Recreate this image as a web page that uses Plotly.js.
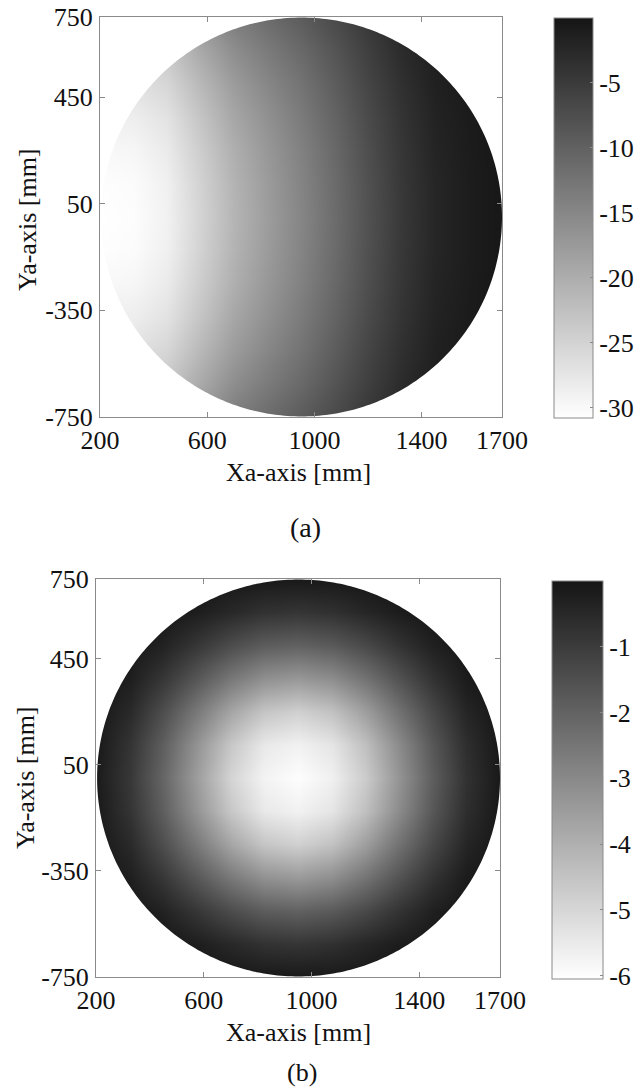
<!DOCTYPE html>
<html>
<head>
<meta charset="utf-8">
<script src="https://cdn.plot.ly/plotly-3.0.1.min.js"></script>
<style>
  html, body { margin: 0; padding: 0; background: #ffffff; }
  #chart { width: 643px; height: 1090px; }
</style>
</head>
<body>
<div id="chart"></div>
<script>
// ---------------- data ----------------
// grid positions [mm]
const xGrid = [200, 325, 450, 575, 700, 825, 950, 1075, 1200, 1325, 1450, 1575, 1700];
const yGrid = [-750, -625, -500, -375, -250, -125, 0, 125, 250, 375, 500, 625, 750];

// (a) values per row (y = -750 ... 750)
const aRowM750 = [-22.8, -22.5, -21.0, -17.0, -13.5, -11.3, -9.3, -6.9, -4.4, -2.1, -0.7, -0.1, -0.1];
const aRowM625 = [-25.2, -24.9, -23.4, -19.4, -15.8, -13.3, -11.0, -8.3, -5.5, -2.9, -1.2, -0.3, -0.1];
const aRowM500 = [-27.2, -26.9, -25.4, -21.4, -17.7, -14.9, -12.4, -9.4, -6.3, -3.5, -1.5, -0.6, -0.1];
const aRowM375 = [-28.8, -28.5, -27.0, -23.0, -19.1, -16.2, -13.4, -10.3, -7.0, -4.0, -1.8, -0.8, -0.2];
const aRowM250 = [-29.9, -29.6, -28.1, -24.1, -20.2, -17.1, -14.2, -10.9, -7.5, -4.3, -2.0, -0.9, -0.2];
const aRowM125 = [-30.6, -30.3, -28.8, -24.8, -20.8, -17.6, -14.6, -11.3, -7.8, -4.5, -2.2, -1.0, -0.3];
const aRow0    = [-30.8, -30.5, -29.0, -25.0, -21.0, -17.8, -14.8, -11.4, -7.9, -4.6, -2.2, -1.0, -0.3];
const aRowP125 = [-30.6, -30.3, -28.8, -24.8, -20.8, -17.6, -14.6, -11.3, -7.8, -4.5, -2.2, -1.0, -0.3];
const aRowP250 = [-29.9, -29.6, -28.1, -24.1, -20.2, -17.1, -14.2, -10.9, -7.5, -4.3, -2.0, -0.9, -0.2];
const aRowP375 = [-28.8, -28.5, -27.0, -23.0, -19.1, -16.2, -13.4, -10.3, -7.0, -4.0, -1.8, -0.8, -0.2];
const aRowP500 = [-27.2, -26.9, -25.4, -21.4, -17.7, -14.9, -12.4, -9.4, -6.3, -3.5, -1.5, -0.6, -0.1];
const aRowP625 = [-25.2, -24.9, -23.4, -19.4, -15.8, -13.3, -11.0, -8.3, -5.5, -2.9, -1.2, -0.3, -0.1];
const aRowP750 = [-22.8, -22.5, -21.0, -17.0, -13.5, -11.3, -9.3, -6.9, -4.4, -2.1, -0.7, -0.1, -0.1];

// (b) values per row (y = -750 ... 750)
const bRowM750 = [0, 0, 0, 0, -0.05, -0.09, -0.10, -0.08, -0.04, 0, 0, 0, 0];
const bRowM625 = [0, 0, -0.04, -0.22, -0.49, -0.74, -0.82, -0.71, -0.44, -0.18, -0.03, 0, 0];
const bRowM500 = [0, -0.04, -0.33, -0.86, -1.42, -1.83, -1.96, -1.77, -1.34, -0.77, -0.27, -0.02, 0];
const bRowM375 = [0, -0.24, -0.87, -1.71, -2.56, -3.19, -3.40, -3.12, -2.44, -1.59, -0.76, -0.16, 0];
const bRowM250 = [-0.06, -0.53, -1.47, -2.59, -3.74, -4.56, -4.84, -4.47, -3.57, -2.40, -1.30, -0.42, -0.03];
const bRowM125 = [-0.10, -0.80, -1.90, -3.27, -4.61, -5.47, -5.70, -5.37, -4.42, -3.05, -1.70, -0.65, -0.07];
const bRow0    = [-0.15, -0.89, -2.08, -3.52, -4.94, -5.74, -6.00, -5.66, -4.72, -3.28, -1.86, -0.74, -0.09];
const bRowP125 = [-0.10, -0.80, -1.90, -3.27, -4.61, -5.47, -5.70, -5.37, -4.42, -3.05, -1.70, -0.65, -0.07];
const bRowP250 = [-0.06, -0.53, -1.47, -2.59, -3.74, -4.56, -4.84, -4.47, -3.57, -2.40, -1.30, -0.42, -0.03];
const bRowP375 = [0, -0.24, -0.87, -1.71, -2.56, -3.19, -3.40, -3.12, -2.44, -1.59, -0.76, -0.16, 0];
const bRowP500 = [0, -0.04, -0.33, -0.86, -1.42, -1.83, -1.96, -1.77, -1.34, -0.77, -0.27, -0.02, 0];
const bRowP625 = [0, 0, -0.04, -0.22, -0.49, -0.74, -0.82, -0.71, -0.44, -0.18, -0.03, 0, 0];
const bRowP750 = [0, 0, 0, 0, -0.05, -0.09, -0.10, -0.08, -0.04, 0, 0, 0, 0];

// axis ticks
const xTickVals = [200, 600, 1000, 1400, 1700];
const xTickText = ["200", "600", "1000", "1400", "1700"];
const yTickVals = [-750, -350, 50, 450, 750];
const yTickText = ["-750", "-350", "50", "450", "750"];

// colour bar ticks
const cbATickVals = [-5, -10, -15, -20, -25, -30];
const cbATickText = ["-5", "-10", "-15", "-20", "-25", "-30"];
const cbBTickVals = [-1, -2, -3, -4, -5, -6];
const cbBTickText = ["-1", "-2", "-3", "-4", "-5", "-6"];

// colour ranges
const zRangeA = [-30.8, 0];
const zRangeB = [-6.05, 0];

// circular aperture [mm]
const apertureCx = 952;
const apertureCy = 0;
const apertureR = 748;

// axis ranges
const xRange = [200, 1700];
const yRange = [-750, 750];

// ---------------- build ----------------
const zA = [aRowM750, aRowM625, aRowM500, aRowM375, aRowM250, aRowM125, aRow0,
            aRowP125, aRowP250, aRowP375, aRowP500, aRowP625, aRowP750];
const zB = [bRowM750, bRowM625, bRowM500, bRowM375, bRowM250, bRowM125, bRow0,
            bRowP125, bRowP250, bRowP375, bRowP500, bRowP625, bRowP750];

// white mask outside the circular aperture (rectangle with a circular hole)
function maskOutline() {
  const pad = 100;
  const xr1 = xRange[1] + pad, xr0 = xRange[0] - pad;
  const yr1 = yRange[1] + pad, yr0 = yRange[0] - pad;
  const xs = [xr1, xr1, xr0, xr0, xr1, xr1];
  const ys = [apertureCy, yr1, yr1, yr0, yr0, apertureCy];
  const n = 360;
  for (let k = 0; k <= n; k++) {
    const t = -2 * Math.PI * k / n;
    xs.push(apertureCx + apertureR * Math.cos(t));
    ys.push(apertureCy + apertureR * Math.sin(t));
  }
  xs.push(xr1); ys.push(apertureCy);
  return {x: xs, y: ys};
}
const mask = maskOutline();

const W = 643, H = 1090;
const FONT = 'Liberation Serif, Times New Roman, serif';
const grayScale = [[0, '#ffffff'], [1, '#151515']];
const boxColor = '#8a8a8a';
const textColor = '#111111';

function cb(tv, tt, left, thick, topPx, botPx) {
  return {
    x: left / W, xanchor: 'left', xpad: 0, ypad: 0,
    y: 1 - (topPx + botPx) / 2 / H, yanchor: 'middle',
    len: (botPx - topPx) / H, lenmode: 'fraction',
    thickness: thick, thicknessmode: 'pixels',
    outlinewidth: 1, outlinecolor: boxColor,
    tickmode: 'array', tickvals: tv, ticktext: tt,
    ticks: 'inside', ticklen: 3, tickcolor: boxColor,
    tickfont: {family: FONT, size: 26, color: textColor}
  };
}

const traces = [
  {
    type: 'heatmap', x: xGrid, y: yGrid, z: zA, zsmooth: 'best',
    colorscale: grayScale, zmin: zRangeA[0], zmax: zRangeA[1],
    xaxis: 'x', yaxis: 'y', hoverinfo: 'skip',
    colorbar: cb(cbATickVals, cbATickText, 554, 39, 18, 418)
  },
  {
    type: 'scatter', mode: 'lines', x: mask.x, y: mask.y, fill: 'toself',
    fillcolor: '#ffffff', line: {width: 0, color: '#ffffff', simplify: false},
    xaxis: 'x', yaxis: 'y', hoverinfo: 'skip', showlegend: false
  },
  {
    type: 'heatmap', x: xGrid, y: yGrid, z: zB, zsmooth: 'best',
    colorscale: grayScale, zmin: zRangeB[0], zmax: zRangeB[1],
    xaxis: 'x2', yaxis: 'y2', hoverinfo: 'skip',
    colorbar: cb(cbBTickVals, cbBTickText, 552, 51, 581, 979)
  },
  {
    type: 'scatter', mode: 'lines', x: mask.x, y: mask.y, fill: 'toself',
    fillcolor: '#ffffff', line: {width: 0, color: '#ffffff', simplify: false},
    xaxis: 'x2', yaxis: 'y2', hoverinfo: 'skip', showlegend: false
  }
];

function xAxis(d0, d1, anchor) {
  return {
    domain: [d0 / W, d1 / W], anchor: anchor, range: xRange,
    tickmode: 'array', tickvals: xTickVals, ticktext: xTickText,
    ticks: 'inside', ticklen: 5, tickcolor: boxColor,
    showline: true, linecolor: boxColor, linewidth: 1, mirror: 'ticks',
    showgrid: false, zeroline: false,
    tickfont: {family: FONT, size: 26, color: textColor},
    ticklabelstandoff: 0
  };
}
function yAxis(topPx, botPx, anchor) {
  return {
    domain: [1 - botPx / H, 1 - topPx / H], anchor: anchor, range: yRange,
    tickmode: 'array', tickvals: yTickVals, ticktext: yTickText,
    ticks: 'inside', ticklen: 5, tickcolor: boxColor,
    showline: true, linecolor: boxColor, linewidth: 1, mirror: 'ticks',
    showgrid: false, zeroline: false,
    tickfont: {family: FONT, size: 26, color: textColor},
    ticklabelstandoff: 1
  };
}

function ann(text, xPx, yPx, size, rot) {
  return {
    text: text, xref: 'paper', yref: 'paper', x: xPx / W, y: 1 - yPx / H,
    xanchor: 'center', yanchor: 'middle', showarrow: false, textangle: rot || 0,
    font: {family: FONT, size: size, color: textColor}
  };
}

const layout = {
  width: W, height: H,
  margin: {l: 0, r: 0, t: 0, b: 0, pad: 0},
  paper_bgcolor: '#ffffff', plot_bgcolor: '#ffffff',
  showlegend: false,
  xaxis: xAxis(100, 502, 'y'),
  yaxis: yAxis(17, 417, 'x'),
  xaxis2: xAxis(96, 500, 'y2'),
  yaxis2: yAxis(579, 977, 'x2'),
  annotations: [
    ann('Xa-axis [mm]', 298, 472, 26),
    ann('Ya-axis [mm]', 27, 220, 26, -90),
    ann('(a)', 305, 527, 28),
    ann('Xa-axis [mm]', 298, 1032, 26),
    ann('Ya-axis [mm]', 25, 778, 26, -90),
    ann('(b)', 302, 1072, 26)
  ]
};

Plotly.newPlot('chart', traces, layout, {staticPlot: true, displayModeBar: false});
</script>
</body>
</html>
